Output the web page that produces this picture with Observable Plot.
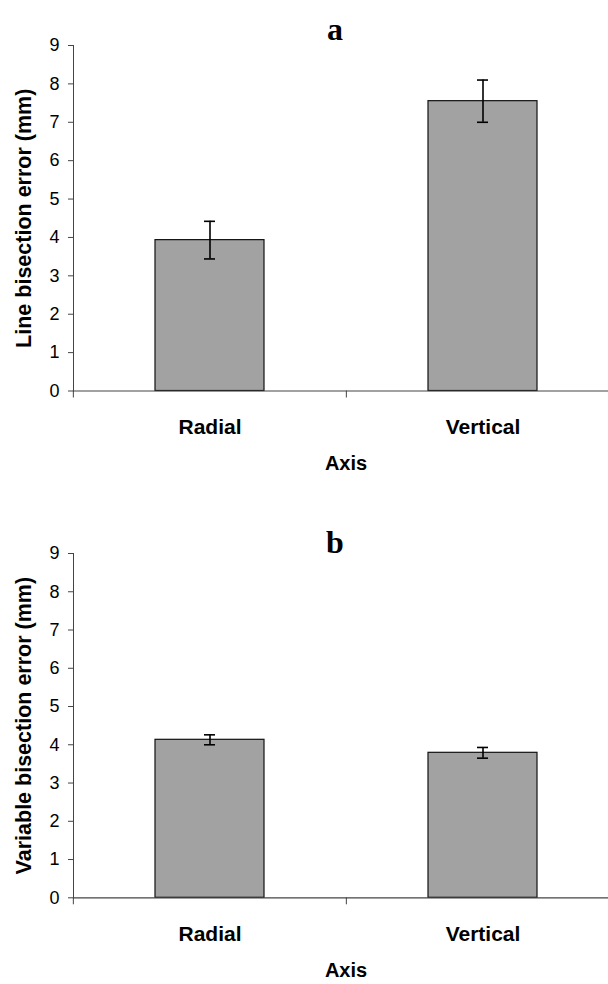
<!DOCTYPE html>
<html>
<head>
<meta charset="utf-8">
<script src="https://cdn.jsdelivr.net/npm/d3@7"></script>
<script src="https://cdn.jsdelivr.net/npm/@observablehq/plot@0.6"></script>
<style>
  html, body { margin: 0; padding: 0; background: #fff; overflow: hidden; width: 608px; }
  #chart svg { display: block; }
</style>
</head>
<body>
<div id="chart"></div>
<script>
// ---- data ----
const categories = ["Radial", "Vertical"];
const lineMeans = [3.93, 7.55];
const lineErrors = [0.49, 0.55];
const variableMeans = [4.13, 3.79];
const variableErrors = [0.13, 0.14];
const yTicks = [0, 1, 2, 3, 4, 5, 6, 7, 8, 9];
const panelTitles = ["a", "b"];
const yLabels = ["Line bisection error (mm)", "Variable bisection error (mm)"];
const xLabel = "Axis";

const FONT = "'Liberation Sans', Arial, sans-serif";

function panel(title, yLabel, means, errors, L) {
  const data = categories.map((c, i) => ({cat: c, v: means[i], lo: means[i] - errors[i], hi: means[i] + errors[i]}));
  return Plot.plot({
    width: 608,
    height: 492,
    marginLeft: 73,
    marginRight: 0,
    marginTop: L.top,
    marginBottom: L.bottom,
    style: {fontFamily: FONT, fontSize: "18px", color: "#000", background: "#fff"},
    x: {domain: categories, range: [73, 619.6], paddingInner: 0.6, paddingOuter: 0.3},
    y: {domain: [0, 9]},
    marks: [
      Plot.barY(data, {x: "cat", y: "v", fill: "#a2a2a2", stroke: "#111", strokeWidth: 1.2}),
      Plot.ruleX(data, {x: "cat", y1: "lo", y2: "hi", stroke: "#000", strokeWidth: 1.6}),
      Plot.tickY(data, {x: "cat", y: "lo", stroke: "#000", strokeWidth: 1.6, insetLeft: 49, insetRight: 49}),
      Plot.tickY(data, {x: "cat", y: "hi", stroke: "#000", strokeWidth: 1.6, insetLeft: 49, insetRight: 49}),
      Plot.frame({anchor: "left", stroke: "#444", strokeWidth: 1}),
      Plot.ruleY([0], {stroke: "#444", strokeWidth: 1.2}),
      Plot.axisY({ticks: yTicks, tickSize: 5, tickPadding: 9, label: null, fontSize: 18, stroke: "#444"}),
      Plot.axisX({tickSize: 7, tickFormat: () => "", label: null, dx: -136.65, stroke: "#444"}),
      Plot.axisX({tickSize: 0, tickPadding: 28, label: null, fontSize: 21, fontWeight: "bold"}),
      Plot.text([yLabel], {frameAnchor: "left", textAnchor: "middle", rotate: -90, dx: -49, fontSize: 21.5, fontWeight: "bold", fill: "#000"}),
      Plot.text([xLabel], {frameAnchor: "bottom", dx: 5, dy: L.axisDy, fontSize: 20, fontWeight: "bold", fill: "#000"}),
      Plot.text([title], {frameAnchor: "top", dx: -6, dy: L.titleDy, fontSize: 32, fontWeight: "bold", fontFamily: "'Liberation Serif', 'Times New Roman', serif", fill: "#000"})
    ]
  });
}

const root = document.getElementById("chart");
root.append(panel(panelTitles[0], yLabels[0], lineMeans, lineErrors, {top: 45, bottom: 101.5, axisDy: 78.5, titleDy: -28}));
root.append(panel(panelTitles[1], yLabels[1], variableMeans, variableErrors, {top: 61, bottom: 86.7, axisDy: 79, titleDy: -23}));
</script>
</body>
</html>
